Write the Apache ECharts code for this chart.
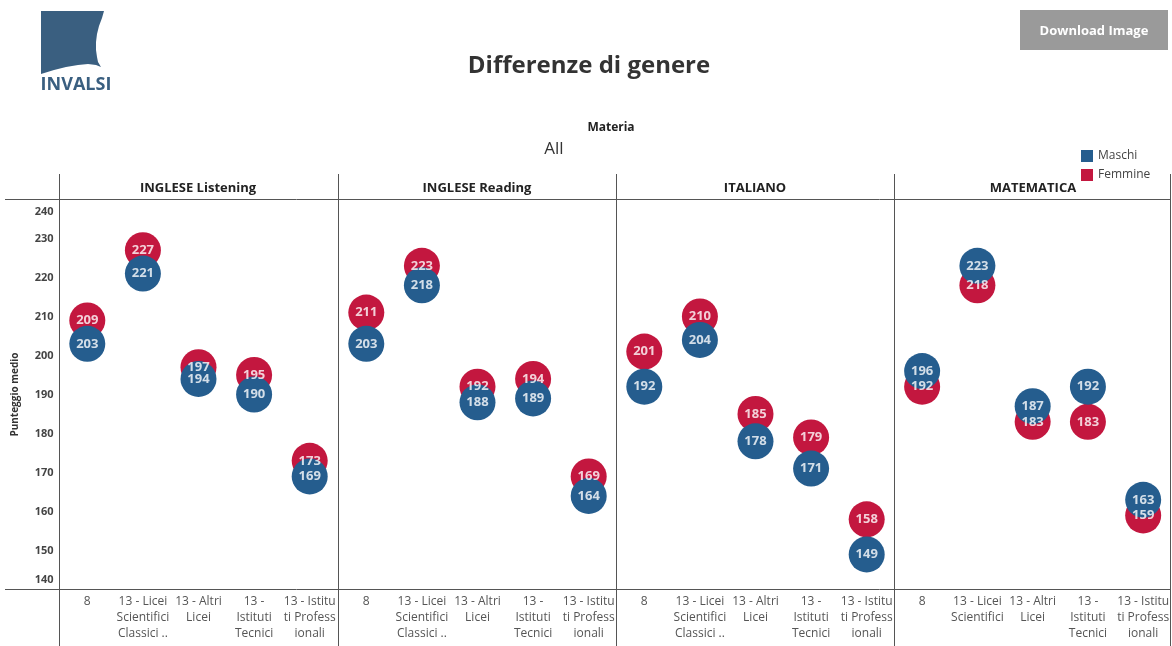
<!DOCTYPE html>
<html>
<head>
<meta charset="utf-8">
<script src="https://cdn.jsdelivr.net/npm/echarts@6/dist/echarts.min.js"></script>
<style>
html,body{margin:0;padding:0;background:#fff;}
#chart{width:1172px;height:646px;}
</style>
</head>
<body>
<div id="chart"></div>
<script>
// ---- data ----
const panels = ['INGLESE Listening', 'INGLESE Reading', 'ITALIANO', 'MATEMATICA'];
const catsStd = ['8', '13 - Licei\nScientifici\nClassici ..', '13 - Altri\nLicei', '13 -\nIstituti\nTecnici', '13 - Istitu\nti Profess\nionali'];
const catsMat = ['8', '13 - Licei\nScientifici', '13 - Altri\nLicei', '13 -\nIstituti\nTecnici', '13 - Istitu\nti Profess\nionali'];
const panelCats = [catsStd, catsStd, catsStd, catsMat];
const maschi = [
  [203, 221, 194, 190, 169],
  [203, 218, 188, 189, 164],
  [192, 204, 178, 171, 149],
  [196, 223, 187, 192, 163]
];
const femmine = [
  [209, 227, 197, 195, 173],
  [211, 223, 192, 194, 169],
  [201, 210, 185, 179, 158],
  [192, 218, 183, 183, 159]
];
const yMin = 140, yMax = 240, yStep = 10;

// ---- styles ----
const BLUE = '#255d8e';
const RED = '#c3173f';
const FONT = '"Open Sans", "Noto Sans", sans-serif';
const panelLeft = [59.5, 338.5, 616.5, 894.5];
const panelW = 278;
const gridTop = 199.5, gridBottomY = 589.5;

const chart = echarts.init(document.getElementById('chart'));

const grids = [], xAxes = [], yAxes = [], series = [], titles = [];
titles.push({text: 'Differenze di genere', left: 589, top: 54, textAlign: 'center', padding: 0,
  textStyle: {fontFamily: FONT, fontSize: 24, fontWeight: 'bold', color: '#333'}});
titles.push({text: 'Materia', left: 611, top: 122, textAlign: 'center', padding: 0,
  textStyle: {fontFamily: FONT, fontSize: 12, fontWeight: 'bold', color: '#222'}});
titles.push({text: 'All', left: 554, top: 141, textAlign: 'center', padding: 0,
  textStyle: {fontFamily: FONT, fontSize: 17, fontWeight: 'normal', color: '#333'}});

const yLabelStyle = {fontFamily: FONT, fontSize: 11, fontWeight: 'bold', color: '#444'};

panels.forEach((p, i) => {
  grids.push({left: panelLeft[i], width: panelW, top: gridTop, height: gridBottomY - gridTop});
  titles.push({text: p, left: panelLeft[i] + panelW / 2 - 0.5, top: 182, textAlign: 'center', padding: 0,
    textStyle: {fontFamily: FONT, fontSize: 13, fontWeight: 'bold', color: '#222'}});
  xAxes.push({
    type: 'category', gridIndex: i, data: panelCats[i],
    axisLine: {show: false}, axisTick: {show: false},
    axisLabel: {margin: 4, fontFamily: FONT, fontSize: 12, color: '#555', lineHeight: 16, interval: 0}
  });
  yAxes.push({
    type: 'value', gridIndex: i, min: yMin, max: yMax, interval: yStep,
    splitLine: {show: false}, axisLine: {show: false}, axisTick: {show: false},
    axisLabel: Object.assign({show: i === 0, margin: 6,
      verticalAlignMinLabel: 'bottom', verticalAlignMaxLabel: 'top',
      formatter: v => v === yMax ? '{t|' + v + '}' : v === yMin ? '{b|' + v + '}' : String(v),
      rich: {
        t: Object.assign({padding: [7, 0, 0, 0]}, yLabelStyle),
        b: Object.assign({padding: [0, 0, 4, 0]}, yLabelStyle)
      }}, yLabelStyle),
    name: i === 0 ? 'Punteggio medio' : '', nameLocation: 'middle', nameGap: 39, nameRotate: 90,
    nameTextStyle: {fontFamily: FONT, fontSize: 10, fontWeight: 'bold', color: '#333'}
  });
  series.push({
    name: 'Femmine', type: 'scatter', xAxisIndex: i, yAxisIndex: i, z: 2,
    data: femmine[i], symbolSize: 36, itemStyle: {color: RED, opacity: 1},
    label: {show: false}, emphasis: {disabled: true}
  });
  series.push({
    name: 'Maschi', type: 'scatter', xAxisIndex: i, yAxisIndex: i, z: 3,
    data: maschi[i], symbolSize: 36, itemStyle: {color: BLUE, opacity: 1},
    label: {show: false}, emphasis: {disabled: true}
  });
  [femmine[i], maschi[i]].forEach((arr, k) => {
    series.push({
      name: k === 0 ? 'lblF' : 'lblM', type: 'scatter', xAxisIndex: i, yAxisIndex: i, z: 5,
      data: arr, symbolSize: 36, itemStyle: {color: 'rgba(0,0,0,0)'},
      label: {show: true, position: 'inside', color: '#fff', fontFamily: FONT, fontSize: 13, fontWeight: 'bold'},
      emphasis: {disabled: true}, silent: true
    });
  });
});

// frame lines
const lineStyle = {stroke: '#555', lineWidth: 1};
const graphic = [
  {type: 'line', shape: {x1: 5, y1: 199.5, x2: 1171, y2: 199.5}, style: lineStyle},
  {type: 'line', shape: {x1: 5, y1: 589.5, x2: 1171, y2: 589.5}, style: lineStyle}
];
[59.5, 338.5, 616.5, 894.5, 1170.5].forEach(x => {
  graphic.push({type: 'line', shape: {x1: x, y1: 174, x2: x, y2: 646}, style: lineStyle});
});
// Download button
graphic.push({type: 'rect', shape: {x: 1020, y: 10, width: 148, height: 40}, style: {fill: '#9a9a9a'}});
graphic.push({type: 'text', x: 1094, y: 31, style: {text: 'Download Image', fill: '#fff', font: 'bold 13px ' + FONT, textAlign: 'center', textVerticalAlign: 'middle'}});
// Logo
graphic.push({type: 'polygon', shape: {points: [
  [41, 11], [104, 11], [102, 18], [99, 26], [97, 34], [96, 42], [96, 50], [97, 57], [98, 62], [101, 67], [96, 65],
  [88, 64], [78, 65], [66, 67], [54, 70], [41, 74]
]}, style: {fill: '#3a5f80'}});
graphic.push({type: 'text', x: 76, y: 85, style: {text: 'INVALSI', fill: '#3a5f80', font: 'bold 18px ' + FONT, textAlign: 'center', textVerticalAlign: 'middle'}});

chart.setOption({
  animation: false,
  title: titles,
  legend: {
    data: ['Maschi', 'Femmine'], orient: 'vertical', left: 1076, top: 145,
    itemWidth: 12, itemHeight: 12, itemGap: 7, icon: 'rect',
    textStyle: {fontFamily: FONT, fontSize: 12, color: '#444'}
  },
  grid: grids, xAxis: xAxes, yAxis: yAxes, series: series, graphic: graphic
});
</script>
</body>
</html>
